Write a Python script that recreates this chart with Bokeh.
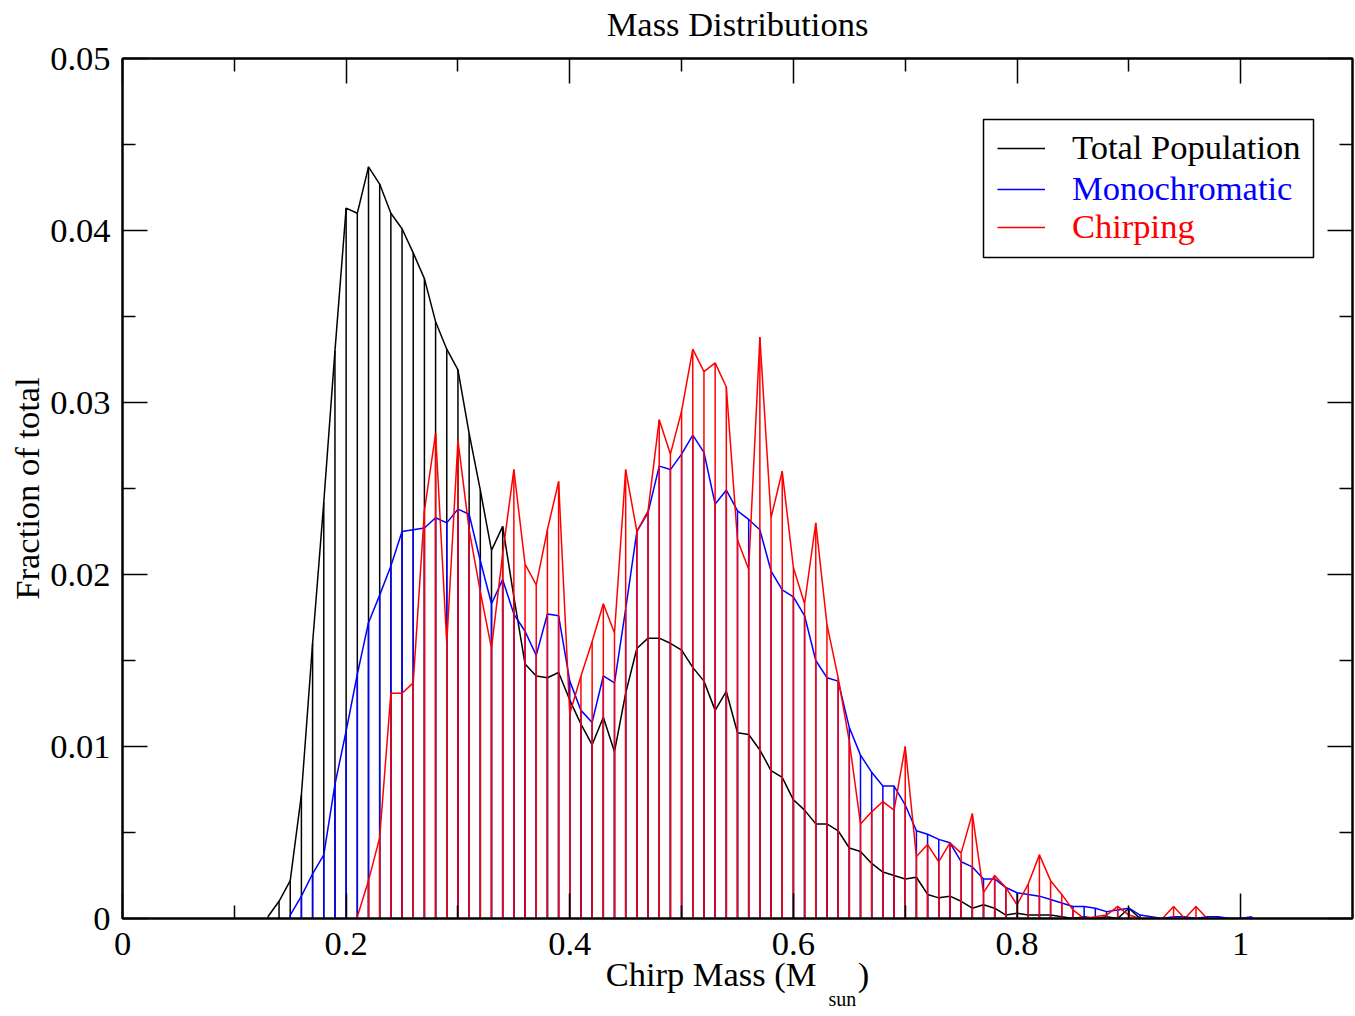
from bokeh.plotting import figure
from bokeh.models import (ColumnDataSource, FixedTicker, CustomJSTickFormatter, LinearAxis,
                          Range1d, Legend, LegendItem, BoxAnnotation)
from bokeh.embed import file_html
from bokeh.resources import INLINE

# ---------------- data ----------------
bin_width = 0.01

total_start = 0.13
total_population = [
    0.0001, 0.0010, 0.0022, 0.0072, 0.0160, 0.0242, 0.0330, 0.0413, 0.0410, 0.0437,
    0.0427, 0.0410, 0.0401, 0.0387, 0.0372, 0.0347, 0.0331, 0.0319, 0.0282, 0.0249,
    0.0214, 0.0228, 0.0187, 0.0148, 0.0141, 0.0140, 0.0143, 0.0127, 0.0113, 0.0101,
    0.0117, 0.0097, 0.0131, 0.0157, 0.0163, 0.0163, 0.0160, 0.0156, 0.0146, 0.0138,
    0.0121, 0.0132, 0.0108, 0.0107, 0.0098, 0.0086, 0.0082, 0.0069, 0.0063, 0.0055,
    0.0055, 0.0051, 0.0041, 0.0039, 0.0032, 0.0027, 0.0025, 0.0023, 0.0024, 0.0014,
    0.0012, 0.0013, 0.0010, 0.0006, 0.0008, 0.0006, 0.0002, 0.0003, 0.0002, 0.0002,
    0.0002, 0.0001, 0.0000, 0.0001, 0.0000, 0.0001, 0.0000, 0.0006, 0.0000,
]

mono_start = 0.15
monochromatic = [
    0.0002, 0.0013, 0.0026, 0.0037, 0.0078, 0.0109, 0.0142, 0.0172, 0.0188, 0.0205,
    0.0225, 0.0226, 0.0227, 0.0233, 0.0230, 0.0238, 0.0235, 0.0208, 0.0183, 0.0197,
    0.0177, 0.0167, 0.0153, 0.0177, 0.0176, 0.0138, 0.0121, 0.0114, 0.0141, 0.0137,
    0.0180, 0.0225, 0.0236, 0.0263, 0.0261, 0.0270, 0.0281, 0.0271, 0.0241, 0.0249,
    0.0237, 0.0232, 0.0226, 0.0202, 0.0191, 0.0187, 0.0176, 0.0150, 0.0140, 0.0138,
    0.0111, 0.0095, 0.0085, 0.0077, 0.0077, 0.0066, 0.0051, 0.0049, 0.0046, 0.0044,
    0.0033, 0.0030, 0.0023, 0.0023, 0.0018, 0.0015, 0.0014, 0.0013, 0.0011, 0.0009,
    0.0007, 0.0007, 0.0006, 0.0004, 0.0005, 0.0006, 0.0002, 0.0001, 0.0000, 0.0001,
    0.0001, 0.0000, 0.0001, 0.0001, 0.0000, 0.0000, 0.0001,
]

chirp_start = 0.21
chirping = [
    0.0001, 0.0022, 0.0047, 0.0131, 0.0131, 0.0137, 0.0237, 0.0282, 0.0160, 0.0278,
    0.0226, 0.0190, 0.0157, 0.0212, 0.0261, 0.0206, 0.0194, 0.0226, 0.0254, 0.0119,
    0.0141, 0.0161, 0.0183, 0.0166, 0.0261, 0.0225, 0.0237, 0.0290, 0.0270, 0.0295,
    0.0331, 0.0318, 0.0323, 0.0309, 0.0220, 0.0203, 0.0338, 0.0233, 0.0260, 0.0204,
    0.0183, 0.0230, 0.0171, 0.0140, 0.0103, 0.0055, 0.0062, 0.0068, 0.0063, 0.0100,
    0.0036, 0.0043, 0.0033, 0.0044, 0.0038, 0.0061, 0.0015, 0.0025, 0.0018, 0.0008,
    0.0020, 0.0037, 0.0022, 0.0014, 0.0005, 0.0000, 0.0001, 0.0002, 0.0007, 0.0002,
    0.0000, 0.0000, 0.0000, 0.0007, 0.0000, 0.0007, 0.0000,
]

series_names = ["Total Population", "Monochromatic", "Chirping"]
title_text = "Mass Distributions"
y_label = "Fraction of total"
x_label = "Chirp Mass (M\u2003\u2009)"
x_label_sub = "sun"
x_major_ticks = [0, 0.2, 0.4, 0.6, 0.8, 1.0]
x_minor_ticks = [0.1, 0.3, 0.5, 0.7, 0.9]
y_major_ticks = [0, 0.01, 0.02, 0.03, 0.04, 0.05]
y_minor_ticks = [0.005, 0.015, 0.025, 0.035, 0.045]

FONT = "Liberation Serif"
FS = "34.5px"


def make_source(start, vals):
    xs = [round(start + bin_width * i, 2) for i in range(len(vals))]
    return ColumnDataSource(dict(x=xs, y=vals, zero=[0.0] * len(vals)))


p = figure(width=1354, height=1012, x_range=Range1d(0, 1.1), y_range=Range1d(0, 0.05),
           output_backend="svg", toolbar_location=None,
           min_border_left=122, min_border_right=2, min_border_top=58, min_border_bottom=94)
p.xgrid.visible = False
p.ygrid.visible = False
p.outline_line_color = "black"
p.outline_line_width = 2
p.background_fill_color = "white"
p.border_fill_color = "white"

fmt = CustomJSTickFormatter(code="return String(Number(tick.toFixed(4)));")


def style_axis(ax):
    ax.axis_line_color = "black"
    ax.axis_line_width = 2
    ax.major_tick_in = 25
    ax.major_tick_out = 0
    ax.minor_tick_in = 13
    ax.minor_tick_out = 0
    ax.major_tick_line_width = 1.5
    ax.minor_tick_line_width = 1.5
    ax.major_label_text_font = FONT
    ax.major_label_text_color = "black"
    ax.axis_label_text_font = FONT
    ax.axis_label_text_font_size = FS
    ax.axis_label_text_font_style = "normal"
    ax.axis_label_text_color = "black"


xb, yl = p.xaxis[0], p.yaxis[0]
for ax in (xb, yl):
    style_axis(ax)
    ax.major_label_text_font_size = FS
    ax.formatter = fmt
xb.ticker = FixedTicker(ticks=x_major_ticks, minor_ticks=x_minor_ticks)
yl.ticker = FixedTicker(ticks=y_major_ticks, minor_ticks=y_minor_ticks)
xb.major_label_standoff = 14
yl.major_label_standoff = 12
xb.axis_label = x_label
xb.axis_label_standoff = -3
yl.axis_label = y_label
yl.axis_label_standoff = 1

blank = CustomJSTickFormatter(code="return '';")
top = LinearAxis(ticker=FixedTicker(ticks=x_major_ticks, minor_ticks=x_minor_ticks), formatter=blank)
right = LinearAxis(ticker=FixedTicker(ticks=y_major_ticks, minor_ticks=y_minor_ticks), formatter=blank)
for ax in (top, right):
    style_axis(ax)
    ax.major_label_standoff = 0
    ax.major_label_text_font_size = "1px"
top.axis_label = title_text
top.axis_label_standoff = 16
p.add_layout(top, "above")
p.add_layout(right, "right")

# subscript of the x-axis label, drawn as the only label of an extra bare axis
sub_pos = (843 - 122) / 1120.0
sub_axis = LinearAxis(ticker=FixedTicker(ticks=[sub_pos], minor_ticks=[]),
                      formatter=CustomJSTickFormatter(code="return 'sun';"))
sub_axis.axis_line_color = None
sub_axis.major_tick_line_color = None
sub_axis.minor_tick_line_color = None
sub_axis.major_tick_in = 0
sub_axis.major_tick_out = 0
sub_axis.major_label_standoff = -8
sub_axis.major_label_text_font = FONT
sub_axis.major_label_text_font_size = "20px"
sub_axis.major_label_text_color = "black"
p.add_layout(sub_axis, "below")

colors = ["black", "blue", "red"]
sources = [make_source(total_start, total_population),
           make_source(mono_start, monochromatic),
           make_source(chirp_start, chirping)]
line_renderers = []
for src, col in zip(sources, colors):
    p.segment(x0="x", y0="zero", x1="x", y1="y", source=src, line_color=col, line_width=1.5)
    r = p.line(x="x", y="y", source=src, line_color=col, line_width=1.5)
    line_renderers.append(r)

# legend box
p.add_layout(BoxAnnotation(left=861, right=1191, top=799, bottom=661,
                           left_units="screen", right_units="screen",
                           top_units="screen", bottom_units="screen",
                           fill_color="white", fill_alpha=1.0,
                           line_color="black", line_alpha=1.0, line_width=1.5,
                           level="annotation"))
legend_y = [751, 710, 672]
for name, r, col, ly in zip(series_names, line_renderers, colors, legend_y):
    lg = Legend(items=[LegendItem(label=name, renderers=[r])], location=(875, ly),
                padding=0, margin=0, spacing=0, glyph_width=48, glyph_height=38,
                label_height=38, label_standoff=27,
                label_text_font=FONT, label_text_font_size=FS, label_text_color=col,
                border_line_color=None, background_fill_alpha=0.0)
    p.add_layout(lg, "center")

open("out.html", "w").write(file_html(p, INLINE))
